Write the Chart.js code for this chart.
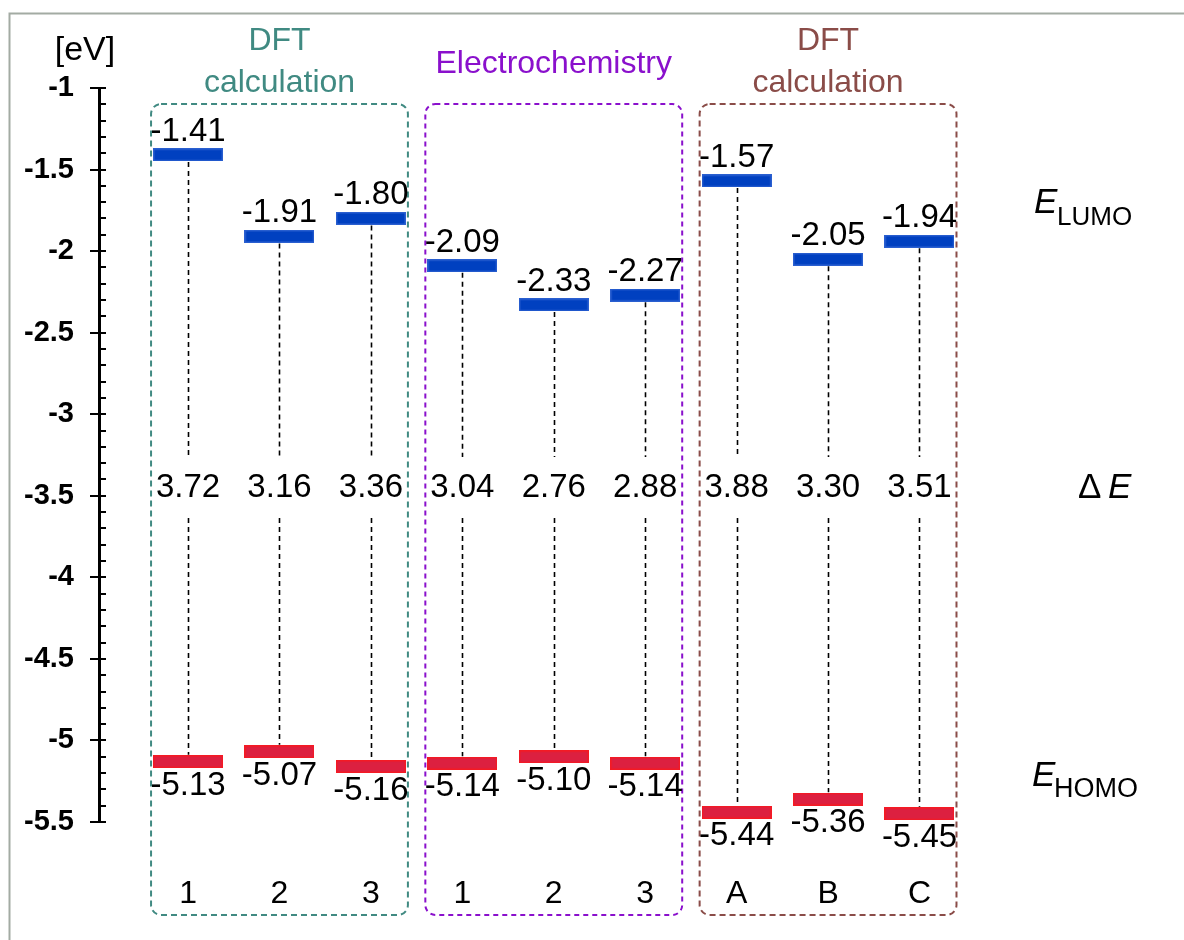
<!DOCTYPE html>
<html>
<head>
<meta charset="utf-8">
<script src="https://cdn.jsdelivr.net/npm/chart.js@4.4.0/dist/chart.umd.min.js"></script>
<style>
  html, body { margin: 0; padding: 0; background: #fff; }
  #wrap { width: 1184px; height: 940px; position: relative; }
</style>
</head>
<body>
<div id="wrap"><canvas id="levels_chart"></canvas></div>
<script>
// data
const categories = ['1', '2', '3', '1', '2', '3', 'A', 'B', 'C'];
const lumo = [-1.41, -1.91, -1.80, -2.09, -2.33, -2.27, -1.57, -2.05, -1.94];
const homo = [-5.13, -5.07, -5.16, -5.14, -5.10, -5.14, -5.44, -5.36, -5.45];
const gap = [3.72, 3.16, 3.36, 3.04, 2.76, 2.88, 3.88, 3.30, 3.51];

const group_titles = [['DFT', 'calculation'], ['Electrochemistry'], ['DFT', 'calculation']];
const group_first = [0, 3, 6];
const group_last = [2, 5, 8];

const y_ticks = [-1, -1.5, -2, -2.5, -3, -3.5, -4, -4.5, -5, -5.5];

// style
const group_colors = ['#408a82', '#8a10cc', '#8a4c48'];
const FONT = '"Liberation Sans", Arial, sans-serif';

function bar_image(fill, edge) {
  const c = document.createElement('canvas');
  c.width = 70; c.height = 13;
  const g = c.getContext('2d');
  g.fillStyle = fill;
  g.fillRect(0, 0, 70, 13);
  g.strokeStyle = edge;
  g.lineWidth = 1.5;
  g.strokeRect(0.75, 0.75, 68.5, 11.5);
  return c;
}

const levels_plugin = {
  id: 'levels',
  beforeDatasetsDraw(chart) {
    const ctx = chart.ctx, xs = chart.scales.x, ys = chart.scales.y;
    ctx.save();
    // outer frame
    ctx.strokeStyle = '#a3aba3';
    ctx.lineWidth = 2;
    ctx.beginPath();
    ctx.moveTo(9.5, 940); ctx.lineTo(9.5, 13.5); ctx.lineTo(1184, 13.5);
    ctx.stroke();

    // group boxes + titles
    for (let g = 0; g < group_titles.length; g++) {
      const left = xs.getPixelForValue(group_first[g]) - 37;
      const right = xs.getPixelForValue(group_last[g]) + 37;
      ctx.strokeStyle = group_colors[g];
      ctx.lineWidth = 2;
      ctx.setLineDash(g == 1 ? [5, 4] : [6, 4]);
      ctx.beginPath();
      ctx.roundRect(left, 104, right - left, 811, 10);
      ctx.stroke();
      ctx.setLineDash([]);
      ctx.fillStyle = group_colors[g];
      ctx.textAlign = 'center';
      ctx.textBaseline = 'alphabetic';
      const cx = (left + right) / 2;
      const lines = group_titles[g];
      ctx.font = '32px ' + FONT;
      if (lines.length == 2) {
        ctx.fillText(lines[0], cx, 50);
        ctx.fillText(lines[1], cx, 92);
      } else {
        ctx.fillText(lines[0], cx, 73);
      }
    }

    // dashed connectors between LUMO and HOMO
    const gapY = ys.getPixelForValue(-3.44);
    ctx.strokeStyle = '#000';
    ctx.lineWidth = 1.6;
    ctx.setLineDash([5, 4]);
    for (let i = 0; i < categories.length; i++) {
      const x = Math.round(xs.getPixelForValue(i)) + 0.5;
      const yl = ys.getPixelForValue(lumo[i]) + 7;
      const yh = ys.getPixelForValue(homo[i]) - 7;
      ctx.beginPath();
      ctx.moveTo(x, yl); ctx.lineTo(x, gapY - 29);
      ctx.moveTo(x, gapY + 32); ctx.lineTo(x, yh);
      ctx.stroke();
    }
    ctx.restore();
  },
  afterDraw(chart) {
    const ctx = chart.ctx, xs = chart.scales.x, ys = chart.scales.y;
    const area = chart.chartArea;
    ctx.save();
    // minor + inner ticks on the y axis
    ctx.strokeStyle = '#000';
    ctx.lineWidth = 2;
    ctx.beginPath();
    for (let k = 0; k <= 45; k++) {
      const y = Math.round(ys.getPixelForValue(-5.5 + k * 0.1));
      ctx.moveTo(area.left, y); ctx.lineTo(area.left + 7, y);
    }
    ctx.stroke();

    ctx.fillStyle = '#000';
    ctx.textAlign = 'center';
    ctx.textBaseline = 'alphabetic';
    ctx.font = '34px ' + FONT;
    ctx.fillText('[eV]', 85, 60);

    // value labels
    ctx.font = '33px ' + FONT;
    const gapY = ys.getPixelForValue(-3.44);
    for (let i = 0; i < categories.length; i++) {
      const x = xs.getPixelForValue(i);
      ctx.fillText(lumo[i].toFixed(2), x, ys.getPixelForValue(lumo[i]) - 14);
      ctx.fillText(homo[i].toFixed(2), x, ys.getPixelForValue(homo[i]) + 33);
      ctx.fillText(gap[i].toFixed(2), x, gapY + 11);
    }
    ctx.font = '32px ' + FONT;
    for (let i = 0; i < categories.length; i++) {
      ctx.fillText(categories[i], xs.getPixelForValue(i), 903);
    }

    // right-hand labels
    ctx.textAlign = 'left';
    ctx.font = 'italic 35px ' + FONT;
    ctx.fillText('E', 1034, 213);
    ctx.font = '26px ' + FONT;
    ctx.fillText('LUMO', 1057, 225);

    ctx.font = '35px ' + FONT;
    ctx.fillText('\u0394', 1078, 498);
    ctx.font = 'italic 35px ' + FONT;
    ctx.fillText('E', 1108, 498);

    ctx.font = 'italic 35px ' + FONT;
    ctx.fillText('E', 1032, 786);
    ctx.font = '27px ' + FONT;
    ctx.fillText('HOMO', 1054, 797);
    ctx.restore();
  }
};

(() => {
  const ctx = document.getElementById('levels_chart').getContext('2d');
  const blue_bar = bar_image('#0040c0', '#2a5fd0');
  const red_bar = bar_image('#dc2040', '#f41a24');

  new Chart(ctx, {
    type: 'scatter',
    data: {
      datasets: [
        {
          label: 'LUMO',
          data: lumo.map((v, i) => ({ x: i, y: v })),
          pointStyle: blue_bar
        },
        {
          label: 'HOMO',
          data: homo.map((v, i) => ({ x: i, y: v })),
          pointStyle: red_bar
        }
      ]
    },
    options: {
      responsive: true,
      maintainAspectRatio: false,
      animation: false,
      layout: { padding: { top: 88, bottom: 118, left: 0, right: 14 } },
      plugins: {
        legend: { display: false },
        tooltip: { enabled: false }
      },
      scales: {
        x: {
          type: 'linear',
          display: false,
          min: -0.974,
          max: 10.74
        },
        y: {
          min: -5.5,
          max: -1,
          afterFit: (scale) => { scale.width = 99; },
          afterBuildTicks: (scale) => { scale.ticks = y_ticks.map(v => ({ value: v })); },
          ticks: {
            color: '#000',
            padding: 16,
            font: { family: FONT, size: 29, weight: 'bold' },
            callback: (v) => String(Number(v.toFixed(1)))
          },
          grid: {
            drawOnChartArea: false,
            color: '#000',
            lineWidth: 2,
            tickLength: 9
          },
          border: { display: true, color: '#000', width: 3 }
        }
      }
    },
    plugins: [levels_plugin]
  });
})();
</script>
</body>
</html>
